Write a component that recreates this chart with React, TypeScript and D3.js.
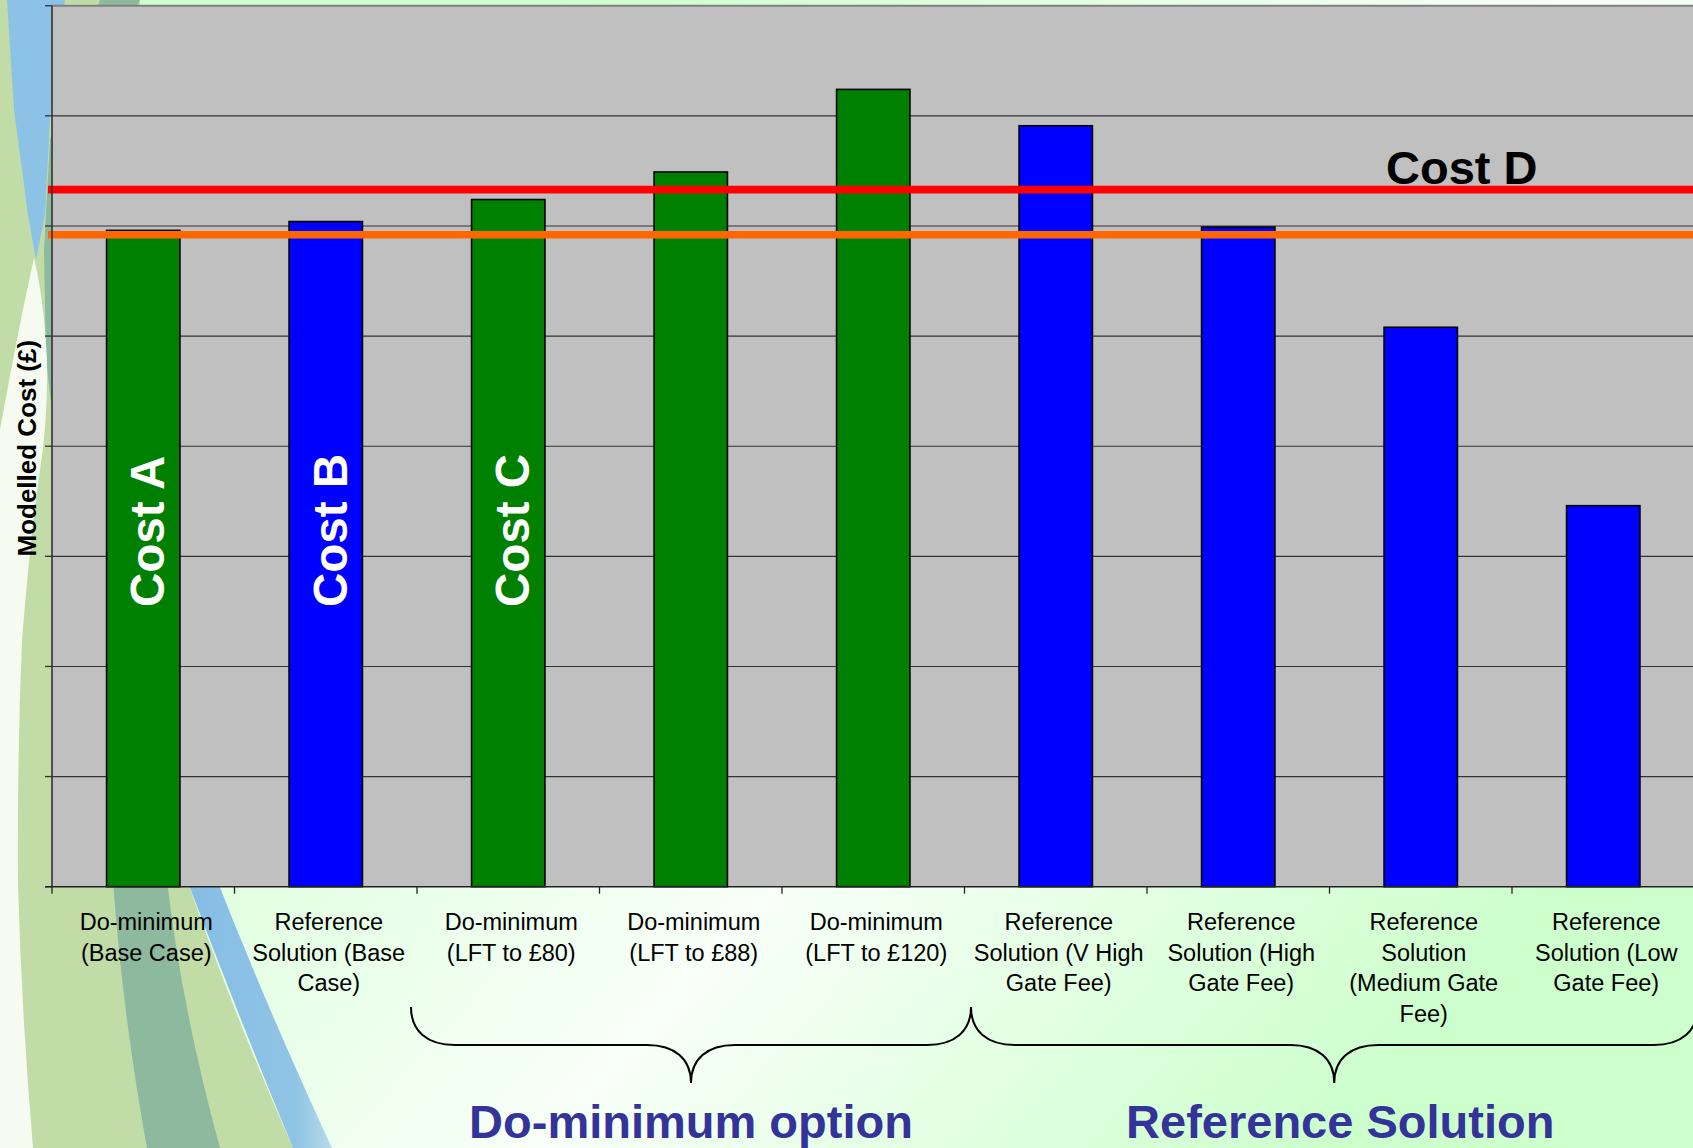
import React from "react";
import * as d3 from "d3";

// ---------- data ----------
const categories = [
  "Do-minimum (Base Case)",
  "Reference Solution (Base Case)",
  "Do-minimum (LFT to £80)",
  "Do-minimum (LFT to £88)",
  "Do-minimum (LFT to £120)",
  "Reference Solution (V High Gate Fee)",
  "Reference Solution (High Gate Fee)",
  "Reference Solution (Medium Gate Fee)",
  "Reference Solution (Low Gate Fee)",
];
const categoryLines = [
  ["Do-minimum", "(Base Case)"],
  ["Reference", "Solution (Base", "Case)"],
  ["Do-minimum", "(LFT to £80)"],
  ["Do-minimum", "(LFT to £88)"],
  ["Do-minimum", "(LFT to £120)"],
  ["Reference", "Solution (V High", "Gate Fee)"],
  ["Reference", "Solution (High", "Gate Fee)"],
  ["Reference", "Solution", "(Medium Gate", "Fee)"],
  ["Reference", "Solution (Low", "Gate Fee)"],
];
const modelledCost = [5.96, 6.04, 6.24, 6.49, 7.24, 6.91, 5.99, 5.08, 3.46];
const optionType = ["dm", "ref", "dm", "dm", "dm", "ref", "ref", "ref", "ref"];
const barNames = ["Cost A", "Cost B", "Cost C", "", "", "", "", "", ""];
const yTicks = [0, 1, 2, 3, 4, 5, 6, 7, 8];
const refLineValues = [6.33, 5.92];
const refLineColors = ["#ff0000", "#ff6600"];
const refLineLabels = ["Cost D", ""];
const groupNames = ["Do-minimum option", "Reference Solution"];
const groupStart = [2, 5];
const groupEnd = [4, 8];
const yAxisTitle = "Modelled Cost (£)";

const W = 1693;
const H = 1148;
const FONT = "'Liberation Sans', Arial, Helvetica, sans-serif";

export default function App() {
  const left = 52;
  const top = 5.7;
  const bottom = 886.7;
  const step = 182.5;
  const x = d3
    .scaleBand<string>()
    .domain(categories)
    .range([left, left + step * categories.length])
    .paddingInner(0)
    .paddingOuter(0);
  const y = d3.scaleLinear().domain([0, 8]).range([bottom, top]);
  const bw = x.bandwidth() * 0.402;
  const color = d3.scaleOrdinal<string, string>().domain(["dm", "ref"]).range(["#008000", "#0000ff"]);

  const bracePath = (x0: number, x1: number) => {
    const yt = 1007, yh = 1045, yb = 1083;
    const m = (x0 + x1) / 2;
    const p = d3.path();
    p.moveTo(x0, yt);
    p.bezierCurveTo(x0, yt + 24, x0 + 16, yh, x0 + 44, yh);
    p.lineTo(m - 44, yh);
    p.bezierCurveTo(m - 16, yh, m, yh + 14, m, yb);
    p.bezierCurveTo(m, yh + 14, m + 16, yh, m + 44, yh);
    p.lineTo(x1 - 44, yh);
    p.bezierCurveTo(x1 - 16, yh, x1, yt + 24, x1, yt);
    return p.toString();
  };
  const braceX0 = [x(categories[groupStart[0]])! - 6, x(categories[groupStart[1]])! + 6.5];
  const braceX1 = [
    x(categories[groupEnd[0]])! + step + 6.5,
    x(categories[groupEnd[1]])! + step + 3,
  ];

  return (
    <>
      <style>{`html,body{margin:0;padding:0;overflow:hidden;}`}</style>
      <svg width={W} height={H} style={{ display: "block" }} fontFamily={FONT}>
        <defs>
          <linearGradient id="slideBg" gradientUnits="userSpaceOnUse" x1={0} y1={0} x2={1493} y2={1357}>
            <stop offset="0" stopColor="#ccffcc" />
            <stop offset="0.2" stopColor="#ccffcc" />
            <stop offset="0.58" stopColor="#f8fff8" />
            <stop offset="0.87" stopColor="#ccffcc" />
            <stop offset="1" stopColor="#ccffcc" />
          </linearGradient>
          <linearGradient id="blueFade" x1="0" y1="0" x2="1" y2="0">
            <stop offset="0" stopColor="#86bde6" />
            <stop offset="0.75" stopColor="#8fc4e4" />
            <stop offset="1" stopColor="#b7dcec" />
          </linearGradient>
        </defs>
        {/* slide background */}
        <rect x={0} y={0} width={W} height={H} fill="url(#slideBg)" />
        {/* decorative swooshes */}
        <path d="M0,0 L140,0 L140,300 L187,880 Q232,1010 293,1148 L0,1148 Z" fill="#c2dca8" />
        <path d="M113,880 Q122,1010 147,1148 L220,1148 Q182,1010 167,880 Z" fill="#8db99f" />
        <path d="M100,0 L140,0 L52,160 L52,410 L46,360 L44,250 L50,140 Z" fill="#8db99f" />
        <path d="M187,880 Q236,1010 293,1148 L332,1148 Q268,1010 217,880 Z" fill="url(#blueFade)" />
        <path d="M7,0 L65,0 L50,120 L45,215 L36,260 L28,215 L14,110 Z" fill="#8cc2e6" />
        <path
          d="M34,258 Q44,300 47,360 Q48,420 40,470 Q30,540 22,640 Q17,760 18,886 Q22,1020 33,1148 L0,1148 L0,430 Q18,330 34,258 Z"
          fill="#f6fbf1"
        />

        {/* plot area */}
        <rect x={left} y={top} width={W - left + 5} height={bottom - top} fill="#c0c0c0" />
        {yTicks.slice(1).map((t) => (
          <line
            key={"g" + t}
            x1={left}
            x2={W + 5}
            y1={y(t)}
            y2={y(t)}
            stroke={t === 8 ? "#808080" : "#333"}
            strokeWidth={t === 8 ? 2 : 1.1}
          />
        ))}

        {/* bars */}
        {categories.map((c, i) => {
          const cx = x(c)! + x.bandwidth() / 2;
          return (
            <rect
              key={"b" + i}
              x={cx - bw / 2}
              y={y(modelledCost[i])}
              width={bw}
              height={y(0) - y(modelledCost[i])}
              fill={color(optionType[i])}
              stroke="#000"
              strokeWidth={1.6}
            />
          );
        })}

        {/* bar names */}
        {categories.map((c, i) =>
          barNames[i] ? (
            <text
              key={"n" + i}
              transform={`translate(${x(c)! + x.bandwidth() / 2 + 21},607) rotate(-90)`}
              fill="#fff"
              fontWeight="bold"
              fontSize={47.5}
              textAnchor="start"
            >
              {barNames[i]}
            </text>
          ) : null
        )}

        {/* reference lines */}
        {refLineValues.map((v, i) => (
          <line
            key={"r" + i}
            x1={48}
            x2={W + 5}
            y1={y(v)}
            y2={y(v)}
            stroke={refLineColors[i]}
            strokeWidth={7.7}
          />
        ))}
        {refLineValues.map((v, i) =>
          refLineLabels[i] ? (
            <text key={"rl" + i} x={1386} y={y(v) - 5.5} fontSize={47} fontWeight="bold" fill="#000">
              {refLineLabels[i]}
            </text>
          ) : null
        )}

        {/* y axis */}
        <line x1={left} x2={left} y1={top} y2={bottom} stroke="#333" strokeWidth={1.6} />
        {yTicks.map((t) => (
          <line key={"yt" + t} x1={45} x2={left} y1={y(t)} y2={y(t)} stroke="#333" strokeWidth={1.3} />
        ))}
        {/* x axis */}
        <line x1={45} x2={W + 5} y1={bottom} y2={bottom} stroke="#222" strokeWidth={1.5} />
        {categories.map((c, i) => (
          <line key={"xt" + i} x1={x(c)!} x2={x(c)!} y1={bottom} y2={bottom + 7} stroke="#222" strokeWidth={1.3} />
        ))}

        {/* category labels */}
        {categories.map((c, i) => (
          <text
            key={"cl" + i}
            x={x(c)! + x.bandwidth() / 2 + 3}
            y={930}
            fontSize={23.5}
            fill="#000"
            textAnchor="middle"
          >
            {categoryLines[i].map((ln, j) => (
              <tspan key={j} x={x(c)! + x.bandwidth() / 2 + 3} y={930 + j * 30.5}>
                {ln}
              </tspan>
            ))}
          </text>
        ))}

        {/* y axis title */}
        <text
          transform={`translate(36,${(top + bottom) / 2 + 2}) rotate(-90)`}
          textAnchor="middle"
          fontWeight="bold"
          fontSize={26}
          fill="#000"
        >
          {yAxisTitle}
        </text>

        {/* group braces */}
        {groupNames.map((g, i) => (
          <g key={"grp" + i}>
            <path d={bracePath(braceX0[i], braceX1[i])} fill="none" stroke="#000" strokeWidth={2} />
            <text
              x={(braceX0[i] + braceX1[i]) / 2 + (i === 1 ? 6 : 0)}
              y={1138}
              textAnchor="middle"
              fontWeight="bold"
              fontSize={47}
              fill="#333399"
            >
              {g}
            </text>
          </g>
        ))}
      </svg>
    </>
  );
}
